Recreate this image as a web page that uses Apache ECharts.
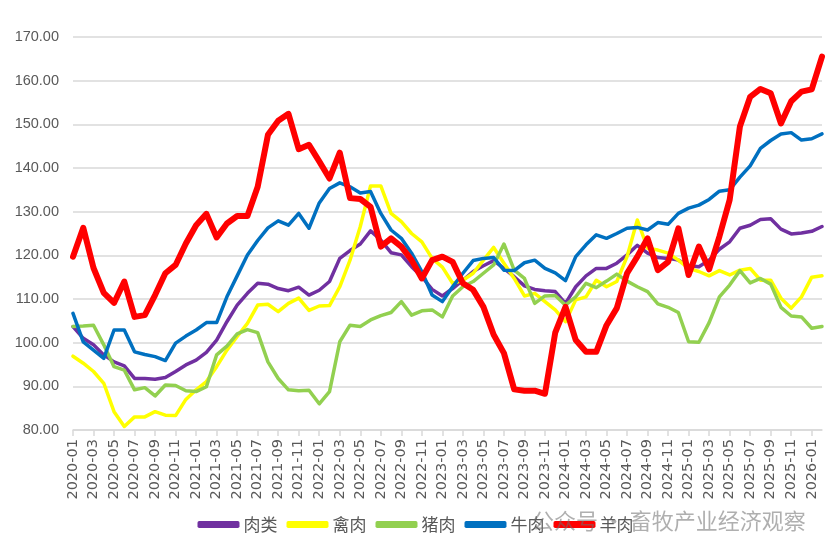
<!DOCTYPE html>
<html>
<head>
<meta charset="utf-8">
<script src="https://cdn.jsdelivr.net/npm/echarts@6/dist/echarts.min.js"></script>
<style>
html,body{margin:0;padding:0;background:#fff;}
#c{width:831px;height:558px;}
</style>
</head>
<body>
<div id="c"></div>
<script>
// Monthly categories 2020-01 .. 2026-02
const months = [];
for (let y = 2020; y <= 2026; y++) {
  for (let m = 1; m <= 12; m++) {
    if (y === 2026 && m > 2) break;
    months.push(y + '-' + (m < 10 ? '0' + m : '' + m));
  }
}
const yTicks = [80, 90, 100, 110, 120, 130, 140, 150, 160, 170];

const meat = [103.7,101.0,99.5,97.2,95.6,94.7,91.8,91.8,91.6,92.0,93.4,94.9,96.0,97.8,100.6,104.8,108.6,111.3,113.6,113.4,112.4,111.9,112.7,110.9,112.0,114.0,119.3,121.1,122.6,125.6,123.5,120.6,120.1,117.4,115.1,112.2,110.7,112.4,114.3,116.3,117.6,118.8,117.0,115.1,113.0,112.2,111.9,111.7,109.0,112.8,115.3,117.0,117.0,118.2,120.1,122.3,120.5,119.5,119.3,118.9,117.6,117.4,118.9,121.4,123.1,126.2,126.9,128.2,128.4,126.0,124.9,125.1,125.5,126.6];
const poultry = [96.9,95.3,93.4,90.7,84.2,80.8,83.0,83.0,84.2,83.4,83.3,87.0,89.2,91.1,94.5,98.3,101.4,104.4,108.6,108.8,107.1,109.0,110.2,107.4,108.4,108.5,112.8,118.9,126.6,135.9,135.9,129.6,127.7,125.0,123.1,119.3,117.3,113.6,114.3,115.9,118.9,121.8,118.2,114.7,110.7,111.3,109.4,107.5,104.8,109.8,110.5,114.3,112.8,114.0,119.7,128.1,121.6,121.2,120.5,118.9,117.0,116.3,115.3,116.5,115.5,116.6,117.0,114.3,114.3,110.2,107.9,110.5,115.0,115.3];
const pork = [103.7,103.8,104.0,99.5,94.5,93.7,89.2,89.7,87.8,90.3,90.2,89.0,88.8,89.9,97.2,99.2,102.0,103.0,102.3,95.6,91.8,89.2,89.0,89.1,86.0,88.8,100.2,104.0,103.7,105.2,106.2,106.9,109.4,106.3,107.3,107.5,105.9,110.7,112.8,114.0,115.9,117.8,122.6,116.6,114.7,109.0,110.7,110.8,108.6,110.5,113.6,112.6,114.1,115.7,114.1,112.8,111.7,108.9,108.1,106.9,100.2,100.1,104.6,110.5,113.2,116.5,113.7,114.7,113.4,108.1,106.1,105.9,103.3,103.7];
const beef = [106.7,100.2,98.3,96.4,102.9,102.9,97.9,97.3,96.8,95.9,99.9,101.5,102.9,104.6,104.6,110.5,115.3,120.1,123.4,126.3,127.9,126.9,129.6,126.2,132.0,135.3,136.6,135.7,134.3,134.6,129.6,125.8,123.9,120.5,116.3,110.9,109.4,112.8,115.9,118.8,119.3,119.5,116.6,116.5,118.3,118.9,117.0,116.0,114.2,119.7,122.4,124.7,123.9,125.0,126.2,126.4,125.8,127.5,127.1,129.6,130.8,131.5,132.8,134.7,135.0,137.9,140.5,144.5,146.3,147.8,148.1,146.4,146.7,147.8];
const mutton = [119.7,126.3,117.1,111.4,109.1,114.0,105.9,106.3,110.9,115.9,117.8,122.7,126.9,129.5,124.1,127.3,129.0,129.0,135.7,147.6,150.8,152.4,144.3,145.3,141.5,137.6,143.5,133.1,132.9,131.1,122.0,123.9,122.0,118.9,114.7,118.9,119.7,118.5,113.6,112.1,108.2,101.8,97.6,89.3,89.0,89.0,88.3,102.3,108.2,100.6,97.9,97.9,104.0,107.9,115.9,119.7,123.9,116.6,118.5,126.2,115.5,122.0,116.8,124.3,132.7,149.5,156.3,158.1,157.1,150.2,155.3,157.5,158.0,165.5];

const names = ['肉类', '禽肉', '猪肉', '牛肉', '羊肉'];
const colors = ['#7030A0', '#FFFF00', '#92D050', '#0070C0', '#FF0000'];
const seriesData = [meat, poultry, pork, beef, mutton];
const widths = [3.5, 3.5, 3.5, 3.5, 6];

const chart = echarts.init(document.getElementById('c'));
chart.setOption({
  animation: false,
  backgroundColor: '#fff',
  grid: { left: 73, right: 9, top: 37, bottom: 128, containLabel: false },
  xAxis: {
    type: 'category',
    data: months,
    boundaryGap: false,
    axisLine: { lineStyle: { color: '#d9d9d9', width: 1.5 } },
    axisTick: { show: true, interval: 1, length: 6, lineStyle: { color: '#d9d9d9', width: 1.5 } },
    axisLabel: {
      interval: 1, rotate: 90, margin: 9,
      color: '#595959', fontSize: 14.5,
      fontFamily: 'DejaVu Sans, sans-serif'
    },
    splitLine: { show: false }
  },
  yAxis: {
    type: 'value',
    min: yTicks[0], max: yTicks[yTicks.length - 1], interval: 10,
    axisLine: { show: false },
    axisTick: { show: false },
    axisLabel: {
      margin: 14, color: '#595959', fontSize: 14.5,
      fontFamily: 'Liberation Sans Narrow, Liberation Sans, sans-serif',
      formatter: v => v.toFixed(2)
    },
    splitLine: { lineStyle: { color: '#d9d9d9', width: 1.5 } }
  },
  legend: {
    bottom: 20, left: 'center',
    itemWidth: 42, itemHeight: 7, itemGap: 9,
    icon: 'roundRect',
    textStyle: { color: '#595959', fontSize: 17, fontFamily: 'Noto Sans CJK SC', padding: [0, 0, 0, -1] },
    data: names
  },
  graphic: [{
    type: 'text', left: 532, top: 510, z: 100,
    style: { text: '公众号 · 畜牧产业经济观察', fontSize: 22, fill: 'rgba(110,110,110,0.55)', fontFamily: 'Noto Sans CJK SC' }
  }],
  series: names.map((n, i) => ({
    name: n, type: 'line', data: seriesData[i],
    symbol: 'none', smooth: false,
    z: i === 4 ? 10 : 2 + i,
    lineStyle: { color: colors[i], width: widths[i], cap: 'round', join: 'round' },
    itemStyle: { color: colors[i] }
  }))
});
</script>
</body>
</html>
